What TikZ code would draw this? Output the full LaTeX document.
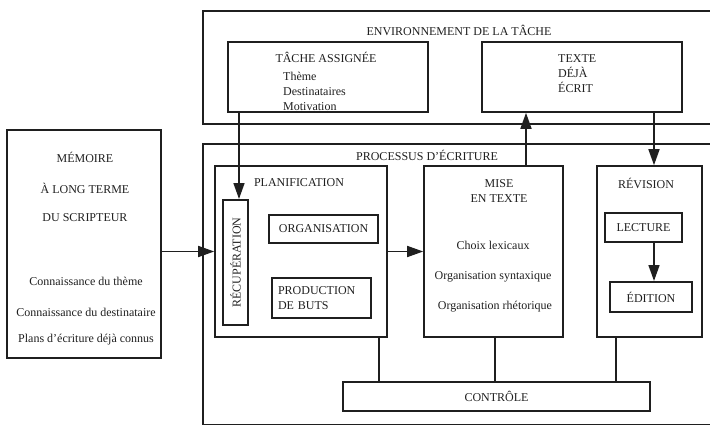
\documentclass[tikz,border=0pt]{standalone}
\usepackage{fontspec}
\setmainfont{Liberation Serif}
\usepackage{tikz}
\usetikzlibrary{arrows.meta,positioning,calc}

\colorlet{ink}{black!88}
\tikzset{
    box/.style={draw=ink, line width=1.6pt, inner sep=0pt, text=ink, font=\fontsize{12}{15}\selectfont},
    smallbox/.style={draw=ink, line width=2pt, inner sep=0pt, text=ink, font=\fontsize{12}{15}\selectfont},
    lbl/.style={text=ink, inner sep=0pt, font=\fontsize{12}{15}\selectfont},
    link/.style={draw=ink, line width=1.6pt},
    arr/.style={draw=ink, line width=1.6pt, -{Triangle[length=16pt, width=11pt]}},
}

\begin{document}
\begin{tikzpicture}[x=10pt, y=10pt]
    % Bildgröße
        \useasboundingbox (0,0) rectangle (71,42.4);
        \clip (0,0) rectangle (71,42.4);

    % Umgebung der Aufgabe
        \node[box, minimum width=530pt, minimum height=113pt, anchor=north west] (env) at (20.2,41.4) {};
        \node[lbl] (envtitle) at (45.9,39.4) {ENVIRONNEMENT DE LA TÂCHE};
        \node[box, minimum width=200pt, minimum height=70pt] (tache) at (32.8,34.7) {};
        \node[lbl] (tachetitle) at (32.6,36.7) {TÂCHE ASSIGNÉE};
        \node[lbl, align=left, anchor=west] (tacheitems) at (28.3,33.3) {Thème\\Destinataires\\Motivation};
        \node[box, minimum width=200pt, minimum height=70pt] (texte) at (58.2,34.7) {};
        \node[lbl, align=left, anchor=west] (textetitle) at (55.8,35.0) {TEXTE\\DÉJÀ\\ÉCRIT};

    % Langzeitgedächtnis
        \node[box, minimum width=154pt, minimum height=228pt] (memoire) at (8.4,18.0) {};
        \node[lbl] (mem1) at (8.5,26.7) {MÉMOIRE};
        \node[lbl] (mem2) at (8.5,23.6) {À LONG TERME};
        \node[lbl] (mem3) at (8.5,20.6) {DU SCRIPTEUR};
        \node[lbl] (mem4) at (8.6,14.3) {Connaissance du thème};
        \node[lbl] (mem5) at (8.6,11.2) {Connaissance du destinataire};
        \node[lbl] (mem6) at (8.6,8.4) {Plans d'écriture déjà connus};

    % Schreibprozess
        \node[box, minimum width=530pt, minimum height=281pt, anchor=north west] (proc) at (20.2,28.1) {};
        \node[lbl] (proctitle) at (42.7,26.9) {PROCESSUS D'ÉCRITURE};

    % Planung
        \node[box, minimum width=172pt, minimum height=171pt] (plan) at (30.1,17.25) {};
        \node[lbl] (plantitle) at (29.9,24.1) {PLANIFICATION};
        \node[smallbox, rotate=90, minimum width=125pt, minimum height=25pt] (recup) at (23.55,16.15) {RÉCUPÉRATION};
        \node[smallbox, minimum width=109pt, minimum height=28pt] (orga) at (32.35,19.5) {ORGANISATION};
        \node[smallbox, align=left, text width=87pt, inner xsep=6pt, minimum height=40pt] (prod) at (32.15,12.6) {PRODUCTION\\DE BUTS};

    % Textproduktion
        \node[box, minimum width=139pt, minimum height=171pt] (mise) at (49.35,17.25) {};
        \node[lbl, align=center] (misetitle) at (49.9,23.3) {MISE\\EN TEXTE};
        \node[lbl] (mise1) at (49.3,17.9) {Choix lexicaux};
        \node[lbl] (mise2) at (49.3,14.7) {Organisation syntaxique};
        \node[lbl] (mise3) at (49.5,11.7) {Organisation rhétorique};

    % Überarbeitung
        \node[box, minimum width=105pt, minimum height=171pt] (rev) at (64.95,17.25) {};
        \node[lbl] (revtitle) at (64.6,24.1) {RÉVISION};
        \node[smallbox, minimum width=77pt, minimum height=29pt] (lect) at (64.35,19.65) {LECTURE};
        \node[smallbox, minimum width=82pt, minimum height=30pt] (edit) at (65.1,12.7) {ÉDITION};

    % Kontrolle
        \node[box, minimum width=307pt, minimum height=29pt] (ctrl) at (49.65,2.75) {CONTRÔLE};

    % Verbindungen
        \draw[arr] ([xshift=3.5pt]recup.east |- tache.south) -- ([xshift=3.5pt]recup.east);
        \draw[arr] (memoire.east |- plan.west) -- (plan.west);
        \draw[arr] (plan.east) -- (mise.west);
        \draw[arr] ([xshift=32.5pt]mise.north) -- ([xshift=32.5pt]mise.north |- texte.south);
        \draw[arr] ([xshift=4.5pt]rev.north |- texte.south) -- ([xshift=4.5pt]rev.north);
        \draw[arr] ([xshift=10.5pt]lect.south) -- ([xshift=10.5pt]lect.south |- edit.north);
        \draw[link] ([xshift=78pt]plan.south) -- ([xshift=78pt]plan.south |- ctrl.north);
        \draw[link] ([xshift=1.5pt]mise.south) -- ([xshift=1.5pt]mise.south |- ctrl.north);
        \draw[link] ([xshift=-33.5pt]rev.south) -- ([xshift=-33.5pt]rev.south |- ctrl.north);
\end{tikzpicture}
\end{document}
